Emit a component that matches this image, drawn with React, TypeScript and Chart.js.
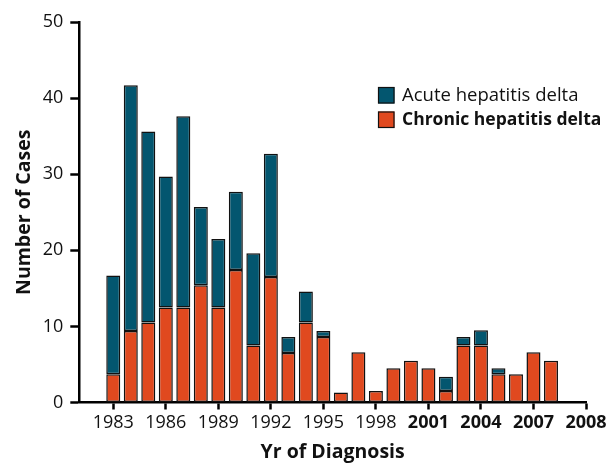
import React, { useEffect, useRef } from "react";
import { Chart, registerables } from "chart.js";

Chart.register(...registerables);

const years = [1983, 1984, 1985, 1986, 1987, 1988, 1989, 1990, 1991, 1992, 1993, 1994, 1995, 1996, 1997, 1998, 1999, 2000, 2001, 2002, 2003, 2004, 2005, 2006, 2007, 2008];
const chronic = [3.7, 9.4, 10.5, 12.5, 12.5, 15.4, 12.5, 17.4, 7.5, 16.5, 6.5, 10.5, 8.6, 1.3, 6.6, 1.5, 4.5, 5.5, 4.5, 1.5, 7.5, 7.5, 3.7, 3.7, 6.6, 5.5];
const acute = [13.0, 32.3, 25.1, 17.2, 25.1, 10.3, 9.0, 10.3, 12.1, 16.2, 2.1, 4.1, 0.8, null, null, null, null, null, null, 1.9, 1.1, 2.0, 0.8, null, null, null];
const seriesLabels = ["Chronic hepatitis delta", "Acute hepatitis delta"];
const lastTickValue = 2010;
const lastTickLabel = "2008";

const FONT = "'Open Sans', 'Noto Sans', sans-serif";
const ACUTE_COLOR = "#03566f";
const CHRONIC_COLOR = "#e0491f";

const legendPlugin = {
  id: "insideLegend",
  afterDraw(chart: any) {
    const ctx = chart.ctx;
    const items = [
      { label: seriesLabels[1], color: ACUTE_COLOR, bold: false },
      { label: seriesLabels[0], color: CHRONIC_COLOR, bold: true },
    ];
    const x0 = 378;
    const y0 = 87;
    const box = 16.5;
    const gap = 24.5;
    ctx.save();
    items.forEach((it, i) => {
      const y = y0 + i * gap;
      ctx.fillStyle = it.color;
      ctx.fillRect(x0, y, box, box);
      ctx.strokeStyle = "#111";
      ctx.lineWidth = 1.2;
      ctx.strokeRect(x0 + 0.5, y + 0.5, box - 1, box - 1);
      ctx.fillStyle = "#111";
      ctx.font = `${it.bold ? "bold " : ""}${it.bold ? 17.5 : 18.5}px ${FONT}`;
      ctx.textBaseline = "middle";
      ctx.textAlign = "left";
      ctx.fillText(it.label, x0 + 24, y + box / 2 + 0.5);
    });
    ctx.restore();
  },
};

export default function App() {
  const ref = useRef<HTMLCanvasElement | null>(null);
  useEffect(() => {
    if (!ref.current) return;
    const chart = new Chart(ref.current, {
      type: "bar",
      data: {
        datasets: [
          {
            label: seriesLabels[0],
            data: years.map((y, i) => ({ x: y, y: chronic[i] })) as any,
            backgroundColor: CHRONIC_COLOR,
            borderColor: "#111",
            borderWidth: 1.5,
            borderSkipped: false,
          },
          {
            label: seriesLabels[1],
            data: years.map((y, i) => ({ x: y, y: acute[i] })) as any,
            backgroundColor: ACUTE_COLOR,
            borderColor: "#111",
            borderWidth: 1.5,
            borderSkipped: false,
          },
        ],
      },
      options: {
        animation: false,
        responsive: true,
        maintainAspectRatio: false,
        categoryPercentage: 0.8,
        barPercentage: 1.0,
        layout: { padding: { top: 22, right: 25, left: 0, bottom: 0 } },
        plugins: {
          legend: { display: false },
          tooltip: { enabled: false },
        },
        scales: {
          x: {
            type: "linear",
            stacked: true,
            offset: false,
            min: 1981.06,
            max: lastTickValue,
            afterFit: (s: any) => {
              s.height = 63.5;
            },
            grid: {
              display: true,
              offset: false,
              drawOnChartArea: false,
              drawTicks: true,
              tickLength: 7,
              tickWidth: 2.5,
              tickColor: "#000",
            },
            border: { display: true, color: "#000", width: 2.5 },
            ticks: {
              stepSize: 3,
              includeBounds: false,
              autoSkip: false,
              maxRotation: 0,
              padding: 3,
              color: "#111",
              font: (c: any) => ({
                family: FONT,
                size: 18,
                weight: c.tick && c.tick.value >= 2001 ? "bold" : "normal",
              }),
              callback: (v: any) => (v === lastTickValue ? lastTickLabel : String(v)),
            },
            title: {
              display: true,
              text: "Yr of Diagnosis",
              color: "#111",
              font: { family: FONT, size: 19.5, weight: "bold" },
              padding: { top: 0, bottom: 1.5 },
            },
          },
          y: {
            stacked: true,
            min: 0,
            max: 50,
            afterFit: (s: any) => {
              s.width = 79.3;
            },
            grid: {
              display: true,
              drawOnChartArea: false,
              drawTicks: true,
              tickLength: 9,
              tickWidth: 2.5,
              tickColor: "#000",
            },
            border: { display: true, color: "#000", width: 2.5 },
            ticks: {
              stepSize: 10,
              padding: 7,
              color: "#111",
              font: { family: FONT, size: 18 },
            },
            title: {
              display: true,
              text: "Number of Cases",
              color: "#111",
              font: { family: FONT, size: 19.5, weight: "bold" },
              padding: { top: 13, bottom: 0 },
            },
          },
        },
      } as any,
      plugins: [legendPlugin],
    });
    return () => chart.destroy();
  }, []);
  return (
    <div style={{ position: "fixed", left: 0, top: 0, width: 611, height: 466, background: "#fff" }}>
      <canvas ref={ref} />
    </div>
  );
}
